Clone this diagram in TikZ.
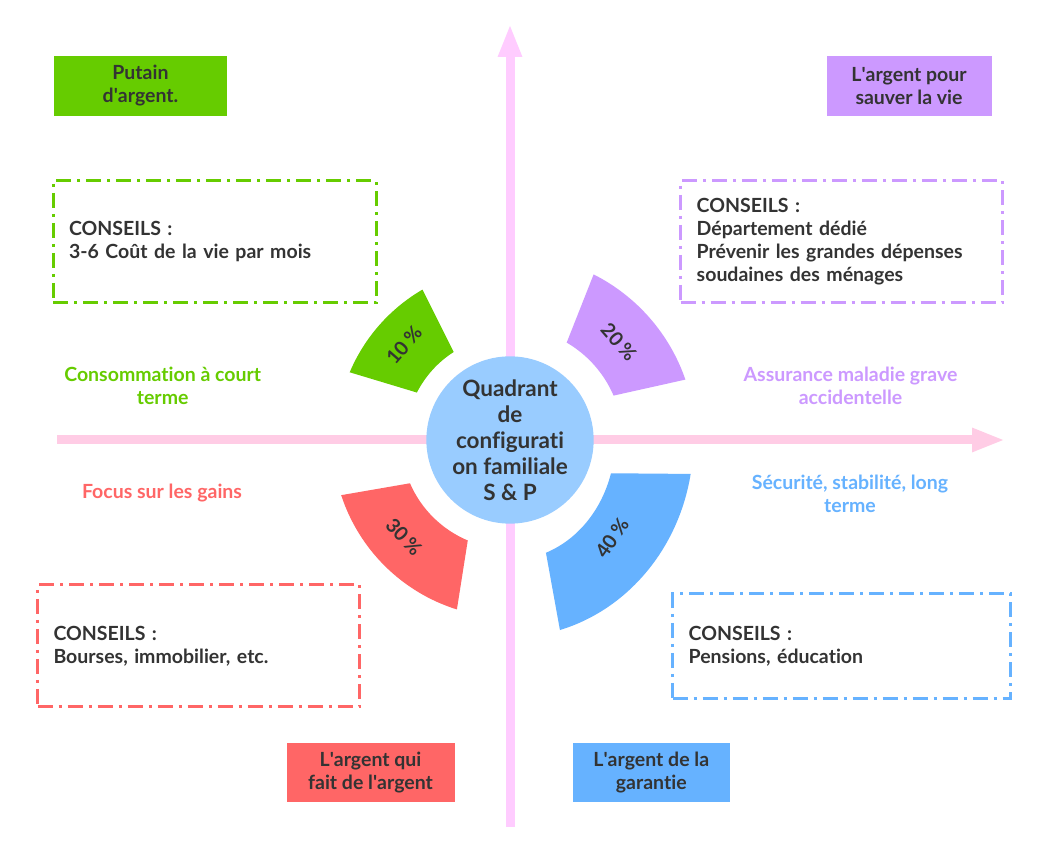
\documentclass[tikz,border=0pt]{standalone}
\usepackage{fontspec}
\setmainfont{Lato}[Ligatures=NoCommon]
\usepackage{tikz}
\usetikzlibrary{arrows.meta,calc}
\definecolor{cvert}{HTML}{66CC00}
\definecolor{cviolet}{HTML}{CC99FF}
\definecolor{crouge}{HTML}{FF6666}
\definecolor{cbleu}{HTML}{66B2FF}
\definecolor{cdisque}{HTML}{99CCFF}
\definecolor{caxeh}{HTML}{FFCCE5}
\definecolor{caxev}{HTML}{FFCCFF}
\definecolor{ctexte}{HTML}{333333}
\newcommand{\boite}{\fontsize{19.5}{23}\selectfont\bfseries}
\newcommand{\grand}{\fontsize{22.5}{26}\selectfont\bfseries}
\newcommand{\petit}{\fontsize{19.5}{22}\selectfont\bfseries}
\newcommand{\ap}{\textquotesingle}
\newcommand{\pc}[1]{#1\kern4pt\%}
\tikzset{
  tag/.style = {fill=#1, inner sep=0pt, align=center, text=ctexte, font=\boite},
  conseil/.style = {draw=#1, line width=3pt, dash pattern=on 15pt off 6pt on 3pt off 6pt,
    inner xsep=16pt, inner ysep=0pt, align=left, text=ctexte, font=\boite},
  info/.style = {text=#1, align=center, font=\boite},
  pct/.style = {text=ctexte, font=\petit, inner sep=0pt},
  axe/.style = {draw=#1, line width=9pt, -{Triangle[length=33pt,width=22pt]}}
}
\newcommand{\quart}[9]{
  \fill[#1] (#2:#4pt and #5pt) arc[start angle=#2, end angle=#3, x radius=#4pt, y radius=#5pt]
    -- (#6:#8pt and #9pt) arc[start angle=#6, end angle=#7, x radius=#8pt, y radius=#9pt] -- cycle;
}

\begin{document}
\begin{tikzpicture}[x=1pt,y=1pt]
\path[fill=white, use as bounding box] (0,0) rectangle (1047,864);
\coordinate (o) at (510,424);
\coordinate (hg) at (57,424);
\coordinate (hd) at (1005,424);
\coordinate (vb) at (510,37);
\coordinate (vh) at (510,840);
\draw[axe=caxeh] (hg) -- (hd);
\draw[axe=caxev] (vb) -- (vh);

\begin{scope}[shift={(o)}]
  \quart{cvert}{157.1}{120.2}{174}{174}{122.6}{153}{104.5}{104.5}
  \quart{cviolet}{63.2}{19}{185.5}{185.5}{23.2}{59.8}{112.7}{112.7}
  \quart{crouge}{198.1}{252.6}{177.6}{177.6}{247.2}{203.4}{109}{109}
  \quart{cbleu}{-9.9}{-74.2}{183.4}{197.5}{-70}{-16.1}{105.1}{120}
\end{scope}

\node[pct, rotate=49] (p10) at (404,519) {\pc{10}};
\node[pct, rotate=-49] (p20) at (619,522) {\pc{20}};
\node[pct, rotate=-47] (p30) at (404,327) {\pc{30}};
\node[pct, rotate=55] (p40) at (612,326) {\pc{40}};

\node[circle, fill=cdisque, minimum size=156pt, inner sep=0pt, align=center,
  text=ctexte, font=\grand] (centre) at (o) {Quadrant\\de\\configurati\\on familiale\\S \& P};

\node[tag=cvert, minimum width=173pt, minimum height=60pt] (tagvert) at (140.5,778) {Putain\\d\ap argent.};
\node[tag=cviolet, minimum width=165pt, minimum height=60pt] (tagviolet) at (909,778) {L\ap argent pour\\sauver la vie};
\node[tag=crouge, minimum width=168pt, minimum height=59pt] (tagrouge) at (370.5,91) {L\ap argent qui\\fait de l\ap argent};
\node[tag=cbleu, minimum width=157pt, minimum height=59pt] (tagbleu) at (651.3,91) {L\ap argent de la\\garantie};

\node[conseil=cvert, text width=291pt, minimum height=122pt] (conseilvert) at (214.5,622)
  {CONSEILS :\\3-6 Coût de la vie par mois};
\node[conseil=cviolet, text width=290pt, minimum height=122pt] (conseilviolet) at (841.7,622)
  {CONSEILS :\\Département dédié\\Prévenir les grandes dépenses\\soudaines des ménages};
\node[conseil=crouge, text width=290pt, minimum height=122pt] (conseilrouge) at (198.5,218)
  {CONSEILS :\\Bourses, immobilier, etc.};
\node[conseil=cbleu, text width=306pt, minimum height=105pt] (conseilbleu) at (841.7,217.5)
  {CONSEILS :\\Pensions, éducation};

\node[info=cvert] (infovert) at (162.7,478) {Consommation à court\\terme};
\node[info=crouge] (inforouge) at (162,371) {Focus sur les gains};
\node[info=cviolet] (infoviolet) at (850.5,478) {Assurance maladie grave\\accidentelle};
\node[info=cbleu] (infobleu) at (850,370) {Sécurité, stabilité, long\\terme};
\end{tikzpicture}
\end{document}
